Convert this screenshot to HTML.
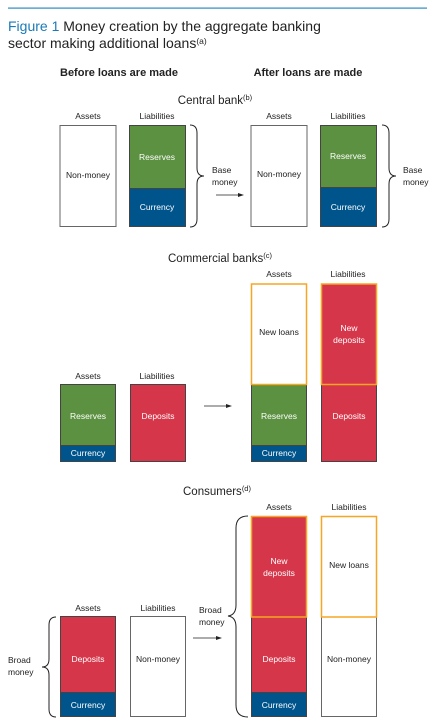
<!DOCTYPE html>
<html><head><meta charset="utf-8"><style>
body{margin:0;background:#fff;}
svg{display:block;font-family:"Liberation Sans",sans-serif;}
.t{font-size:8.5px;fill:#222;text-anchor:middle}
.w{font-size:8.5px;fill:#fff;text-anchor:middle}
.h{font-size:11.5px;fill:#222;text-anchor:middle}
.b{font-size:11px;fill:#222;text-anchor:middle;font-weight:bold}
.s{font-size:8.5px;fill:#222}
.br{fill:none;stroke:#222;stroke-width:1}
</style></head><body>
<svg width="441" height="727" viewBox="0 0 441 727">
<rect x="8" y="7.5" width="419" height="1.2" fill="#2d8bc4"/>
<text x="8" y="31" font-size="14" fill="#1a6fa8"><tspan fill="#1a7ab8">Figure 1</tspan><tspan fill="#222"> Money creation by the aggregate banking</tspan></text>
<text x="8" y="48" font-size="14" fill="#222">sector making additional loans<tspan font-size="8.5" dy="-4">(a)</tspan></text>
<text class="b" x="119" y="76">Before loans are made</text>
<text class="b" x="308" y="76">After loans are made</text>

<text class="h" x="215" y="104">Central bank<tspan font-size="7.5" dy="-4">(b)</tspan></text>
<text class="t" x="88" y="119">Assets</text><text class="t" x="157" y="119">Liabilities</text>
<text class="t" x="279" y="119">Assets</text><text class="t" x="348" y="119">Liabilities</text>
<rect x="60" y="125.5" width="56" height="101" fill="#fff" stroke="#666"/>
<text class="t" x="88" y="178">Non-money</text>
<rect x="129.5" y="125.5" width="56" height="63" fill="#5b9140" stroke="#444"/>
<rect x="129.5" y="188.5" width="56" height="38" fill="#00548c" stroke="#444"/>
<text class="w" x="157" y="160">Reserves</text><text class="w" x="157" y="210">Currency</text>
<path class="br" d="M190 125 Q197 125 197 133 L197 168 Q197 176 204 176 Q197 176 197 184 L197 219 Q197 227 190 227"/>
<text class="s" x="212" y="173">Base</text><text class="s" x="212" y="185">money</text>
<line x1="216" y1="195" x2="240" y2="195" stroke="#222" stroke-width="0.8"/><path d="M244 195 L238 193 L238 197Z" fill="#222"/>
<rect x="251" y="125.5" width="56" height="101" fill="#fff" stroke="#666"/>
<text class="t" x="279" y="177">Non-money</text>
<rect x="320.5" y="125.5" width="56" height="62" fill="#5b9140" stroke="#444"/>
<rect x="320.5" y="187.5" width="56" height="39" fill="#00548c" stroke="#444"/>
<text class="w" x="348" y="159">Reserves</text><text class="w" x="348" y="210">Currency</text>
<path class="br" d="M382 125 Q389 125 389 133 L389 168 Q389 176 396 176 Q389 176 389 184 L389 219 Q389 227 382 227"/>
<text class="s" x="403" y="173">Base</text><text class="s" x="403" y="185">money</text>

<text class="h" x="220" y="262">Commercial banks<tspan font-size="7.5" dy="-4">(c)</tspan></text>
<text class="t" x="279" y="277">Assets</text><text class="t" x="348" y="277">Liabilities</text>
<text class="t" x="88" y="379">Assets</text><text class="t" x="157" y="379">Liabilities</text>
<rect x="60.5" y="384.5" width="55" height="61" fill="#5b9140" stroke="#444"/>
<rect x="60.5" y="445.5" width="55" height="16" fill="#00548c" stroke="#444"/>
<text class="w" x="88" y="419">Reserves</text><text class="w" x="88" y="456">Currency</text>
<rect x="130.5" y="384.5" width="55" height="77" fill="#d6364a" stroke="#444"/>
<text class="w" x="158" y="419">Deposits</text>
<line x1="204" y1="406" x2="228" y2="406" stroke="#222" stroke-width="0.8"/><path d="M232 406 L226 404 L226 408Z" fill="#222"/>
<rect x="251.5" y="384.5" width="55" height="61" fill="#5b9140" stroke="#444"/>
<rect x="251.5" y="445.5" width="55" height="16" fill="#00548c" stroke="#444"/>
<text class="w" x="279" y="419">Reserves</text><text class="w" x="279" y="456">Currency</text>
<rect x="321.5" y="384.5" width="55" height="77" fill="#d6364a" stroke="#444"/>
<text class="w" x="349" y="419">Deposits</text>
<rect x="251.5" y="284" width="55" height="100.5" fill="#fff" stroke="#f5a623" stroke-width="1.5"/>
<text class="t" x="279" y="335">New loans</text>
<rect x="321.5" y="284" width="55" height="100.5" fill="#d6364a" stroke="#f5a623" stroke-width="1.5"/>
<text class="w" x="349" y="331">New</text><text class="w" x="349" y="343">deposits</text>

<text class="h" x="217" y="495">Consumers<tspan font-size="7.5" dy="-4">(d)</tspan></text>
<text class="t" x="279" y="510">Assets</text><text class="t" x="349" y="510">Liabilities</text>
<text class="t" x="88" y="611">Assets</text><text class="t" x="158" y="611">Liabilities</text>
<path class="br" d="M56 617 Q49 617 49 625 L49 659 Q49 667 42 667 Q49 667 49 675 L49 709 Q49 717 56 717"/>
<text class="s" x="8" y="663">Broad</text><text class="s" x="8" y="675">money</text>
<rect x="60.5" y="616.5" width="55" height="76" fill="#d6364a" stroke="#444"/>
<rect x="60.5" y="692.5" width="55" height="24" fill="#00548c" stroke="#444"/>
<text class="w" x="88" y="662">Deposits</text><text class="w" x="88" y="708">Currency</text>
<rect x="130.5" y="616.5" width="55" height="100" fill="#fff" stroke="#666"/>
<text class="t" x="158" y="662">Non-money</text>
<text class="s" x="199" y="613">Broad</text><text class="s" x="199" y="625">money</text>
<line x1="193" y1="638" x2="218" y2="638" stroke="#222" stroke-width="0.8"/><path d="M222 638 L216 636 L216 640Z" fill="#222"/>
<path class="br" d="M248 516 Q236 516 236 528 L236 605 Q236 615 228 616 Q236 617 236 627 L236 705 Q236 717 248 717"/>
<rect x="251.5" y="617" width="55" height="75.5" fill="#d6364a" stroke="#444"/>
<rect x="251.5" y="692.5" width="55" height="24" fill="#00548c" stroke="#444"/>
<text class="w" x="279" y="662">Deposits</text><text class="w" x="279" y="708">Currency</text>
<rect x="321.5" y="617" width="55" height="99.5" fill="#fff" stroke="#666"/>
<text class="t" x="349" y="662">Non-money</text>
<rect x="251.5" y="516.5" width="55" height="100.5" fill="#d6364a" stroke="#f5a623" stroke-width="1.5"/>
<text class="w" x="279" y="564">New</text><text class="w" x="279" y="576">deposits</text>
<rect x="321.5" y="516.5" width="55" height="100.5" fill="#fff" stroke="#f5a623" stroke-width="1.5"/>
<text class="t" x="349" y="568">New loans</text>
</svg>
</body></html>
